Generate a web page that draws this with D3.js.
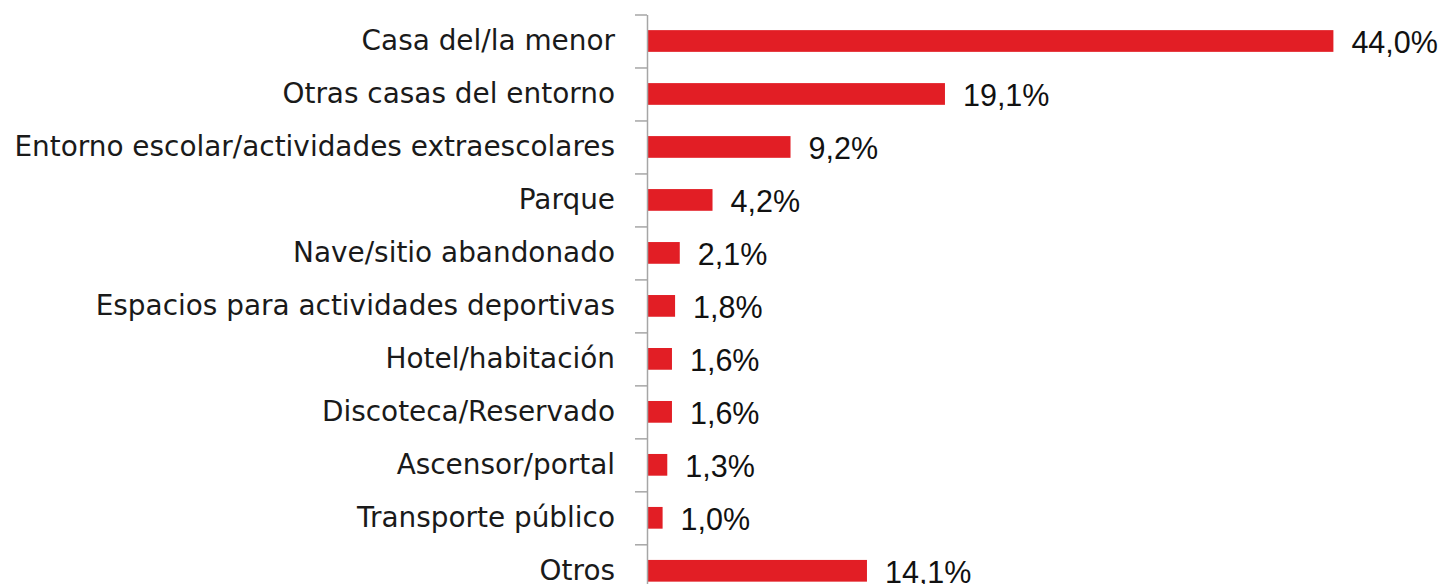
<!DOCTYPE html>
<html><head><meta charset="utf-8">
<script src="https://cdn.jsdelivr.net/npm/d3@7"></script>
<style>html,body{margin:0;padding:0;background:#fff;overflow:hidden}svg{display:block}</style>
</head><body>
<svg id="chart" width="1442" height="584"></svg>
<script>
const categories = ["Casa del/la menor","Otras casas del entorno","Entorno escolar/actividades extraescolares","Parque","Nave/sitio abandonado","Espacios para actividades deportivas","Hotel/habitación","Discoteca/Reservado","Ascensor/portal","Transporte público","Otros"];
const values = [44.0,19.1,9.2,4.2,2.1,1.8,1.6,1.6,1.3,1.0,14.1];
const valueLabels = ["44,0%","19,1%","9,2%","4,2%","2,1%","1,8%","1,6%","1,6%","1,3%","1,0%","14,1%"];

const svg = d3.select("#chart");
const axisX = 647, plotTop = 14.5, step = 52.98;
const y = d3.scaleBand().domain(categories).range([plotTop, plotTop + step*categories.length]).paddingInner(0.59).paddingOuter(0.295);
const yIdx = d3.scaleLinear().domain([0, categories.length]).range([plotTop, plotTop + step*categories.length]);
const x = d3.scaleLinear().domain([0, 44]).range([axisX, axisX + 15.6*44]);

// bars
svg.append("g").selectAll("rect").data(values).join("rect")
  .attr("x", x(0)+0.5)
  .attr("y", (d,i)=>y(categories[i]))
  .attr("width", d=>x(d)-x(0)-0.5)
  .attr("height", y.bandwidth())
  .attr("fill", "#E21E25");

// axis line and boundary ticks
const ax = svg.append("g").attr("transform", `translate(${axisX},0)`)
  .call(d3.axisLeft(yIdx).tickValues(d3.range(0, categories.length+1)).tickFormat("").tickSize(12).tickSizeOuter(0));
ax.selectAll("path,line").attr("stroke", "#A6A6A6").attr("stroke-width", 1.5);

// category labels
const lab = svg.append("g").attr("transform", `translate(${axisX},0)`)
  .call(d3.axisLeft(y).tickSize(0).tickPadding(32));
lab.select(".domain").remove();
lab.selectAll("text").attr("font-family", "'DejaVu Sans', sans-serif").attr("font-size", 30).attr("fill", "#1a1a1a").attr("dy", null).attr("dominant-baseline", "central");
let maxW = 0;
lab.selectAll("text").each(function(){ maxW = Math.max(maxW, this.getComputedTextLength()); });
const fs = 30 * 601 / maxW;
lab.selectAll("text").attr("font-size", fs);

// value labels
svg.append("g").selectAll("text").data(values).join("text")
  .attr("x", d=>x(d)+18)
  .attr("y", (d,i)=>y(categories[i]) + y.bandwidth()/2 + 1)
  .attr("dominant-baseline", "central")
  .attr("font-family", "'Liberation Sans', Arial, sans-serif")
  .attr("font-size", 30.5)
  .attr("fill", "#111")
  .text((d,i)=>valueLabels[i]);
</script>
</body></html>
